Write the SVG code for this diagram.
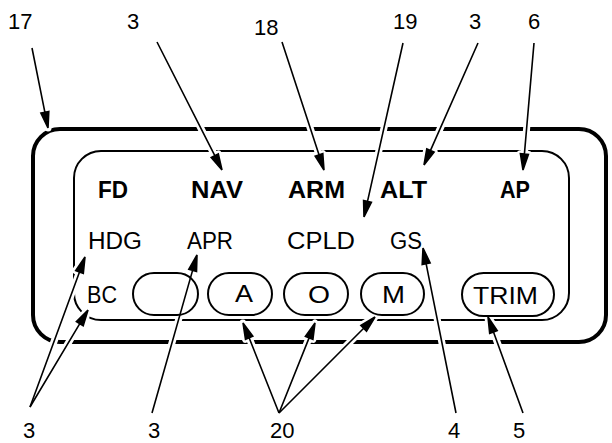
<svg xmlns="http://www.w3.org/2000/svg" xmlns:xlink="http://www.w3.org/1999/xlink" width="612" height="443" viewBox="0 0 612 443">
<style>
.num{font-family:"Liberation Sans",Arial,sans-serif;font-size:22px;fill:#000}
.lbl{font-family:"Liberation Sans",Arial,sans-serif;font-size:23px;fill:#000}
.bold{font-weight:bold}
.halo{fill:#fff;stroke:#fff;stroke-width:7;stroke-linejoin:round}
.ink{fill:#000;stroke:#000;stroke-width:1.6;stroke-linejoin:miter}
.pill{fill:none;stroke:#000;stroke-width:2}
</style>
<defs>
<path id="a17" d="M32 48L44.9 112.3M48 128L40.9 113.1L48.8 111.5Z"/>
<path id="a3n" d="M157 42L214.8 155.7M222 170L211.2 157.5L218.3 153.9Z"/>
<path id="a18" d="M282 42L319 154.8M324 170L315.2 156.1L322.8 153.6Z"/>
<path id="a19" d="M403 43L367.5 201.4M364 217L363.6 200.5L371.4 202.3Z"/>
<path id="a3a" d="M478 43L430.5 150.4M424 165L426.8 148.8L434.1 152Z"/>
<path id="a6" d="M534 43L524.4 154.1M523 170L520.4 153.7L528.4 154.4Z"/>
<path id="a3h" d="M30 407L79.5 272M85 257L83.3 273.4L75.7 270.6Z"/>
<path id="a3b" d="M30 407L79.8 323.7M88 310L83.2 325.8L76.4 321.7Z"/>
<path id="a3p" d="M152 413L192.6 270.4M197 255L196.5 271.5L188.8 269.3Z"/>
<path id="a20a" d="M279 413L249.1 337.8M243 323L252.8 336.2L245.5 339.3Z"/>
<path id="a20o" d="M279 413L309.1 337.9M315 323L312.9 339.4L305.4 336.4Z"/>
<path id="a20m" d="M279 413L363.7 328.3M375 317L366.5 331.1L360.9 325.5Z"/>
<path id="a4" d="M456 413L426.1 263.7M423 248L430.1 262.9L422.2 264.5Z"/>
<path id="a5" d="M523 413L493.5 332M488 317L497.2 330.7L489.7 333.4Z"/>
</defs>
<rect width="612" height="443" fill="#fff"/>
<g id="panel">
<rect x="33" y="129" width="573" height="213" rx="27" fill="none" stroke="#000" stroke-width="4"/>
<rect x="74" y="151" width="495" height="169" rx="27" fill="none" stroke="#000" stroke-width="2"/>
</g>
<g id="halos">
<use xlink:href="#a17" class="halo"/><use xlink:href="#a3n" class="halo"/><use xlink:href="#a18" class="halo"/>
<use xlink:href="#a19" class="halo"/><use xlink:href="#a3a" class="halo"/><use xlink:href="#a6" class="halo"/>
<use xlink:href="#a3h" class="halo"/><use xlink:href="#a3b" class="halo"/><use xlink:href="#a3p" class="halo"/>
<use xlink:href="#a20a" class="halo"/><use xlink:href="#a20o" class="halo"/><use xlink:href="#a20m" class="halo"/>
<use xlink:href="#a4" class="halo"/><use xlink:href="#a5" class="halo"/>
</g>
<g id="annunciators">
<text class="lbl bold" x="98" y="198" textLength="30" lengthAdjust="spacingAndGlyphs">FD</text>
<text class="lbl bold" x="191" y="198" textLength="52" lengthAdjust="spacingAndGlyphs">NAV</text>
<text class="lbl bold" x="288" y="198" textLength="57" lengthAdjust="spacingAndGlyphs">ARM</text>
<text class="lbl bold" x="380" y="198" textLength="47" lengthAdjust="spacingAndGlyphs">ALT</text>
<text class="lbl bold" x="500" y="198" textLength="30" lengthAdjust="spacingAndGlyphs">AP</text>
<text class="lbl" x="88" y="249" textLength="54" lengthAdjust="spacingAndGlyphs">HDG</text>
<text class="lbl" x="187" y="249" textLength="46" lengthAdjust="spacingAndGlyphs">APR</text>
<text class="lbl" x="287" y="249" textLength="68" lengthAdjust="spacingAndGlyphs">CPLD</text>
<text class="lbl" x="390" y="249" textLength="32" lengthAdjust="spacingAndGlyphs">GS</text>
<text class="lbl" x="87" y="303" textLength="30" lengthAdjust="spacingAndGlyphs">BC</text>
</g>
<g id="btn-blank"><rect class="pill" x="133" y="273" width="65" height="42" rx="21"/></g>
<g id="btn-A"><rect class="pill" x="208" y="273" width="64" height="42" rx="21"/><text class="lbl" x="235" y="302" textLength="18" lengthAdjust="spacingAndGlyphs">A</text></g>
<g id="btn-O"><rect class="pill" x="284" y="273" width="64" height="42" rx="21"/><text class="lbl" x="308" y="303" textLength="22" lengthAdjust="spacingAndGlyphs">O</text></g>
<g id="btn-M"><rect class="pill" x="361" y="273" width="63" height="42" rx="21"/><text class="lbl" x="382" y="303" textLength="23" lengthAdjust="spacingAndGlyphs">M</text></g>
<g id="btn-TRIM"><rect class="pill" x="462" y="273" width="92" height="43" rx="21.5"/><text class="lbl" x="473" y="304" textLength="65" lengthAdjust="spacingAndGlyphs">TRIM</text></g>
<g id="connectors">
<use xlink:href="#a17" class="ink"/><use xlink:href="#a3n" class="ink"/><use xlink:href="#a18" class="ink"/>
<use xlink:href="#a19" class="ink"/><use xlink:href="#a3a" class="ink"/><use xlink:href="#a6" class="ink"/>
<use xlink:href="#a3h" class="ink"/><use xlink:href="#a3b" class="ink"/><use xlink:href="#a3p" class="ink"/>
<use xlink:href="#a20a" class="ink"/><use xlink:href="#a20o" class="ink"/><use xlink:href="#a20m" class="ink"/>
<use xlink:href="#a4" class="ink"/><use xlink:href="#a5" class="ink"/>
</g>
<g id="callouts">
<text class="num" x="8" y="29">17</text>
<text class="num" x="127" y="29">3</text>
<text class="num" x="254" y="35">18</text>
<text class="num" x="393" y="29">19</text>
<text class="num" x="469" y="29">3</text>
<text class="num" x="528" y="29">6</text>
<text class="num" x="23" y="438">3</text>
<text class="num" x="148" y="438">3</text>
<text class="num" x="270" y="438">20</text>
<text class="num" x="448" y="438">4</text>
<text class="num" x="513" y="438">5</text>
</g>
</svg>
